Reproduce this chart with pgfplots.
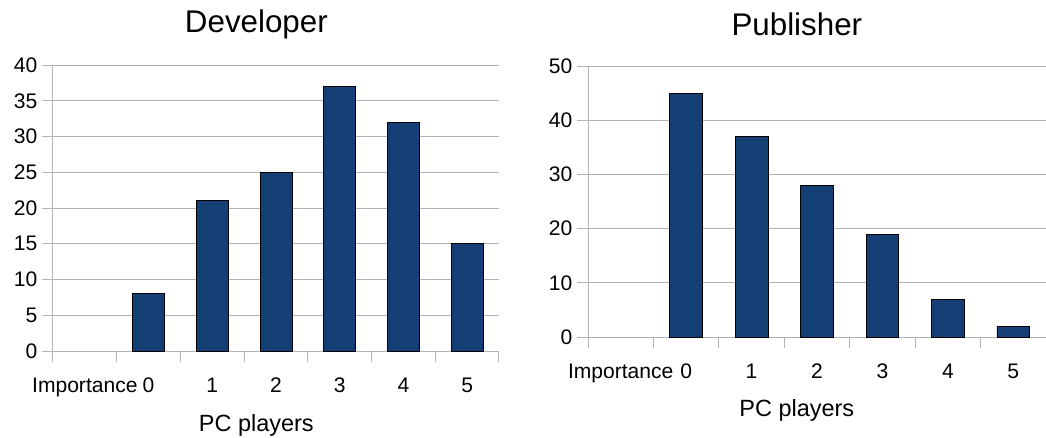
\documentclass[border=0pt]{standalone}
\usepackage{pgfplots}
\pgfplotsset{compat=1.18}
\usepackage{fontspec}
\setmainfont{Liberation Sans}
\definecolor{barblue}{RGB}{19,63,116}
\definecolor{gridgray}{RGB}{179,179,179}
\pgfplotsset{
  mybars/.style={
    scale only axis,
    anchor=south west,
    ybar,
    bar width=0.5,
    xmin=-0.5, xmax=6.5,
    ymin=0,
    xtick={0,1,2,3,4,5,6},
    xticklabels={Importance,0,1,2,3,4,5},
    minor xtick={-0.5,0.5,1.5,2.5,3.5,4.5,5.5,6.5},
    major x tick style={draw=none},
    minor x tick style={gridgray, line width=0.75pt},
    major y tick style={gridgray, line width=0.75pt},
    tick align=outside,
    major tick length=8.25pt,
    minor tick length=8.25pt,
    axis x line*=bottom,
    axis y line*=left,
    axis line style={-, gridgray, line width=0.75pt},
    ymajorgrids,
    grid style={gridgray, line width=0.75pt},
    /pgf/number format/assume math mode=true,
    tick label style={font=\fontsize{15.8}{19}\selectfont},
    xticklabel style={yshift=-7.5pt, text height=11.5pt},
    title style={font=\fontsize{23.5}{28}\selectfont, anchor=base},
    xlabel style={font=\fontsize{17.6}{21}\selectfont, anchor=base},
    clip=false,
  },
  mybar/.style={fill=barblue, draw=black, line width=0.6pt},
}
\begin{document}
\begin{tikzpicture}
\useasboundingbox (0,0) rectangle (784.5pt,-327.75pt);
\begin{axis}[mybars,
  at={(39.75pt,-263.25pt)},
  width=334.5pt, height=214.5pt,
  ymax=40, ytick={0,5,...,40},
  title={Developer},
  title style={at={(axis description cs:0.456,1.084)}},
  xlabel={PC players},
  xlabel style={at={(axis description cs:0.456,-0.28)}},
]
\addplot[mybar] coordinates {(1,8) (2,21) (3,25) (4,37) (5,32) (6,15)};
\end{axis}
\begin{axis}[mybars,
  at={(441pt,-252.75pt)},
  width=343.5pt, height=203.25pt,
  ymax=50, ytick={0,10,...,50},
  title={Publisher},
  title style={at={(axis description cs:0.456,1.082)}},
  xlabel={PC players},
  xlabel style={at={(axis description cs:0.456,-0.295)}},
]
\addplot[mybar] coordinates {(1,45) (2,37) (3,28) (4,19) (5,7) (6,2)};
\end{axis}
\end{tikzpicture}
\end{document}
